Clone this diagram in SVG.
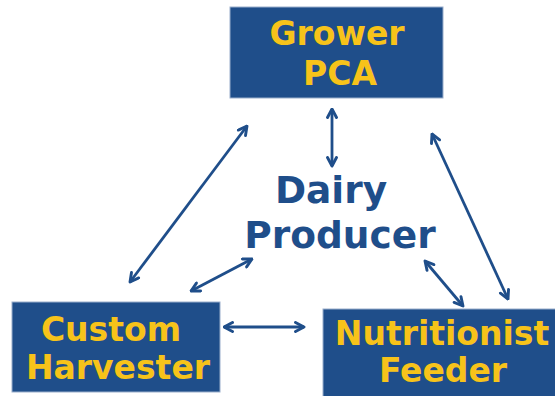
<svg xmlns="http://www.w3.org/2000/svg" width="555" height="396" viewBox="0 0 555 396">
<style>
.box{fill:#1f4e8a;stroke:#9aaecb;stroke-width:1}
.bt{font-family:"DejaVu Sans",Verdana,sans-serif;font-weight:bold;font-size:33px;fill:#f7c31a;text-anchor:middle}
.ct{font-family:"DejaVu Sans",Verdana,sans-serif;font-weight:bold;font-size:37.5px;fill:#1f4e8a;text-anchor:middle}
.arr{stroke:#1f4e8a;stroke-width:2.8;fill:none;marker-start:url(#ah);marker-end:url(#ah)}
</style>
<defs>
<marker id="ah" viewBox="0 0 12 12" refX="10.5" refY="6" markerWidth="12" markerHeight="12" markerUnits="userSpaceOnUse" orient="auto-start-reverse">
<polyline points="2,1.5 10.5,6 2,10.5" fill="none" stroke="#1f4e8a" stroke-width="2.9" stroke-linecap="round" stroke-linejoin="round"/>
</marker>
</defs>
<rect width="555" height="396" fill="#ffffff"/>
<g id="connectors">
<line class="arr" x1="332" y1="109" x2="332" y2="166"/>
<line class="arr" x1="247" y1="126" x2="130" y2="282"/>
<line class="arr" x1="252" y1="259" x2="191" y2="291"/>
<line class="arr" x1="224" y1="327" x2="304" y2="327"/>
<line class="arr" x1="432" y1="134" x2="508" y2="299"/>
<line class="arr" x1="425" y1="261" x2="463" y2="306"/>
</g>
<g id="grower">
<rect class="box" x="230" y="7" width="213" height="91"/>
<text class="bt" x="337" y="45">Grower</text>
<text class="bt" x="340" y="85">PCA</text>
</g>
<g id="dairy">
<text class="ct" x="331" y="203">Dairy</text>
<text class="ct" x="340" y="248">Producer</text>
</g>
<g id="harvester">
<rect class="box" x="12" y="302" width="208" height="90"/>
<text class="bt" x="111" y="341">Custom</text>
<text class="bt" x="118" y="379">Harvester</text>
</g>
<g id="nutritionist">
<rect class="box" x="323" y="309" width="240" height="95"/>
<text class="bt" x="442" y="345">Nutritionist</text>
<text class="bt" x="443" y="382">Feeder</text>
</g>
</svg>
